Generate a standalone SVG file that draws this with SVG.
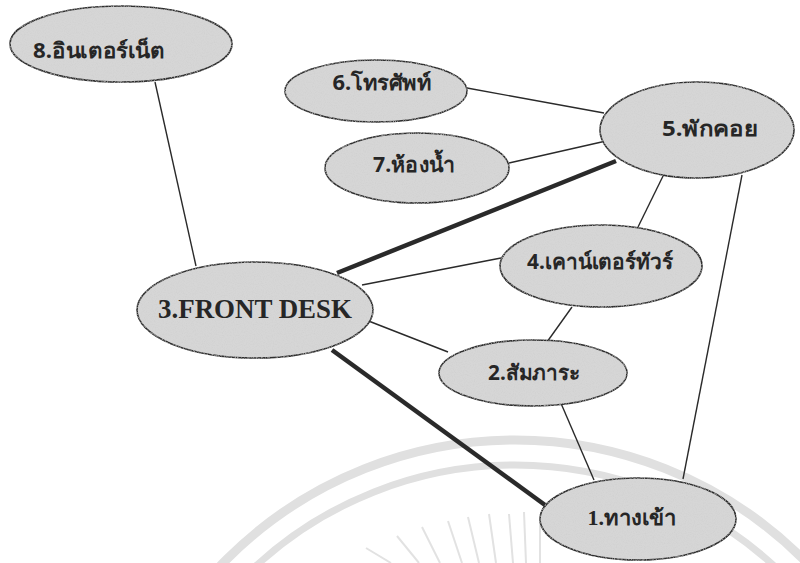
<svg xmlns="http://www.w3.org/2000/svg" width="800" height="563" viewBox="0 0 800 563">
<defs>
<filter id="grain" x="-5%" y="-5%" width="110%" height="110%">
<feTurbulence type="fractalNoise" baseFrequency="0.9" numOctaves="2" seed="3" result="n"/>
<feColorMatrix in="n" type="matrix" values="0 0 0 0 0.62  0 0 0 0 0.62  0 0 0 0 0.62  0 0 0 1.6 -0.72" result="dots"/>
<feComposite in="dots" in2="SourceGraphic" operator="in" result="clip"/>
<feMerge><feMergeNode in="SourceGraphic"/><feMergeNode in="clip"/></feMerge>
</filter>
<style>
.node ellipse{fill:#d6d6d6;stroke:#2e2e2e;stroke-width:1.6}
.lbl{font-family:"Noto Sans","DejaVu Sans",sans-serif;font-weight:bold;font-size:21px;fill:#262626;text-anchor:middle}
.lat{font-family:"Liberation Serif",serif;font-weight:bold;font-size:27px;fill:#262626;text-anchor:middle}
.thin{stroke:#2a2a2a;stroke-width:1.4;fill:none}
.thick{stroke:#2a2a2a;stroke-width:4.5;fill:none}
.wm{stroke:#e0e0e0;fill:none}
</style>
</defs>
<rect width="800" height="563" fill="#ffffff"/>
<g id="watermark">
<circle class="wm" cx="515" cy="848" r="408" stroke-width="9"/>
<circle class="wm" cx="515" cy="848" r="383" stroke-width="7"/>
<g stroke="#e2e2e2" stroke-width="2">
<line x1="366" y1="548" x2="391" y2="563"/>
<line x1="397" y1="536" x2="419" y2="563"/>
<line x1="422" y1="527" x2="440" y2="563"/>
<line x1="448" y1="521" x2="462" y2="563"/>
<line x1="468" y1="517" x2="479" y2="563"/>
<line x1="489" y1="514" x2="496" y2="563"/>
<line x1="509" y1="514" x2="513" y2="563"/>
<line x1="524" y1="512" x2="526" y2="563"/>
<line x1="540" y1="514" x2="540" y2="563"/>
</g>
</g>
<g id="connectors">
<line class="thin" x1="155" y1="82" x2="196" y2="266"/>
<line class="thin" x1="467" y1="88" x2="604" y2="113"/>
<line class="thin" x1="509" y1="163" x2="606" y2="141"/>
<line class="thick" x1="337" y1="273" x2="616" y2="161"/>
<line class="thin" x1="665" y1="172" x2="638" y2="227"/>
<line class="thin" x1="362" y1="285" x2="501" y2="258"/>
<line class="thin" x1="572" y1="307" x2="547" y2="342"/>
<line class="thin" x1="366" y1="320" x2="448" y2="352"/>
<line class="thick" x1="332" y1="350" x2="545" y2="505"/>
<line class="thin" x1="560" y1="401" x2="594" y2="480"/>
<line class="thin" x1="742" y1="175" x2="683" y2="479"/>
</g>
<g id="n8" class="node"><ellipse cx="121" cy="44" rx="111" ry="38" filter="url(#grain)"/><text class="lbl" x="99" y="58" textLength="132" lengthAdjust="spacingAndGlyphs">8.อินเตอร์เน็ต</text></g>
<g id="n6" class="node"><ellipse cx="376" cy="91" rx="91" ry="31" filter="url(#grain)"/><text class="lbl" x="382" y="90" textLength="99" lengthAdjust="spacingAndGlyphs">6.โทรศัพท์</text></g>
<g id="n7" class="node"><ellipse cx="417" cy="168" rx="92" ry="35" filter="url(#grain)"/><text class="lbl" x="414" y="172" textLength="82" lengthAdjust="spacingAndGlyphs">7.ห้องน้ำ</text></g>
<g id="n5" class="node"><ellipse cx="697" cy="130" rx="97" ry="48" filter="url(#grain)"/><text class="lbl" x="710" y="136" textLength="96" lengthAdjust="spacingAndGlyphs">5.พักคอย</text></g>
<g id="n4" class="node"><ellipse cx="601" cy="266" rx="101" ry="41" filter="url(#grain)"/><text class="lbl" x="600" y="269" textLength="146" lengthAdjust="spacingAndGlyphs">4.เคาน์เตอร์ทัวร์</text></g>
<g id="n3" class="node"><ellipse cx="255" cy="310" rx="118" ry="48" filter="url(#grain)"/><text class="lat" x="255" y="318" textLength="194" lengthAdjust="spacingAndGlyphs">3.FRONT DESK</text></g>
<g id="n2" class="node"><ellipse cx="533" cy="373" rx="94" ry="33" filter="url(#grain)"/><text class="lbl" x="534" y="380" textLength="92" lengthAdjust="spacingAndGlyphs">2.สัมภาระ</text></g>
<g id="n1" class="node"><ellipse cx="638" cy="519" rx="98" ry="41" filter="url(#grain)"/><text class="lbl" x="632" y="525" textLength="89" lengthAdjust="spacingAndGlyphs" style="font-family:'Liberation Serif',serif">1.ทางเข้า</text></g>
</svg>
